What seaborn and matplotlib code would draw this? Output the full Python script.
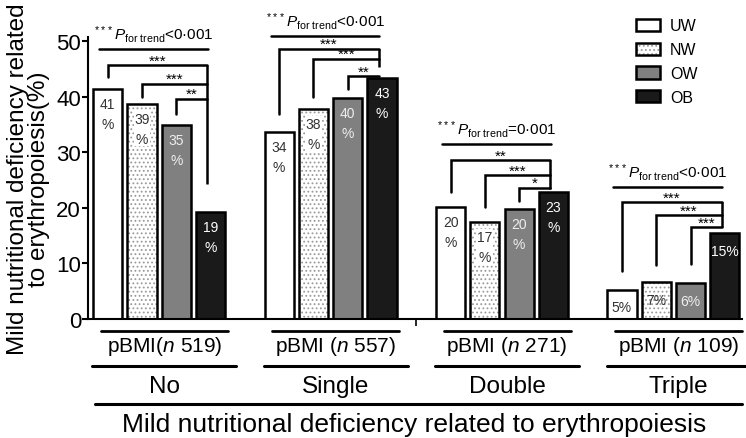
import numpy as np
import pandas as pd
import matplotlib.pyplot as plt
import matplotlib.colors as mcolors
import seaborn as sns
from matplotlib.patches import Patch
from matplotlib.transforms import blended_transform_factory

# values (% of each pBMI group)
groups = ["No", "Single", "Double", "Triple"]
bmi_levels = ["UW", "NW", "OW", "OB"]
sample_n = [519, 557, 271, 109]
uw_pct = [41.4, 33.6, 20.1, 5.2]
nw_pct = [38.7, 37.8, 17.4, 6.7]
ow_pct = [34.9, 39.7, 19.8, 6.4]
ob_pct = [19.2, 43.3, 22.8, 15.4]
p_trend = ["<0·001", "<0·001", "=0·001", "<0·001"]
sig_stars = [["***", "***", "**"],
             ["***", "***", "**"],
             ["**", "***", "*"],
             ["***", "***", "***"]]

# annotation layout (data units): p-line, bracket levels, left drops, right drop
p_line_y = [48.6, 50.9, 31.5, 23.8]
bracket_y = [[45.6, 42.3, 39.6], [48.6, 46.8, 43.6], [28.6, 25.9, 23.6], [21.0, 18.7, 16.5]]
drop_y = [[43.5, 40.0, 36.9], [36.9, 40.0, 41.4], [22.8, 20.1, 21.2], [8.6, 9.7, 9.9]]
right_drop_y = [24.3, 45.3, 23.4, 16.5]

df = pd.DataFrame({
    "group": np.repeat(groups, 4),
    "bmi": bmi_levels * 4,
    "pct": [v for g in zip(uw_pct, nw_pct, ow_pct, ob_pct) for v in g],
})

sns.set_theme(style="ticks")
plt.rcParams["font.family"] = ["Liberation Sans", "DejaVu Sans"]
plt.rcParams["mathtext.fontset"] = "custom"
plt.rcParams["mathtext.rm"] = "Liberation Sans"
plt.rcParams["mathtext.it"] = "Liberation Sans:italic"
plt.rcParams["hatch.linewidth"] = 0.8
plt.rcParams["text.color"] = "black"
plt.rcParams["axes.labelcolor"] = "black"
plt.rcParams["ytick.color"] = "black"
plt.rcParams["xtick.color"] = "black"

palette = {"UW": "white", "NW": "white", "OW": "#808080", "OB": "#1a1a1a"}
text_col = {"UW": "#333333", "NW": "#333333", "OW": "#eeeeee", "OB": "white"}

fig, ax = plt.subplots(figsize=(7.46, 4.39), dpi=100)
ax.set_position([88 / 746, 119 / 439, 654 / 746, 282 / 439])

sns.barplot(data=df, x="group", y="pct", hue="bmi", order=groups, hue_order=bmi_levels,
            palette=palette, saturation=1, width=0.8, gap=0.15, errorbar=None,
            edgecolor="black", linewidth=1.8, legend=False, ax=ax)

nw_hatch = "...."
for lvl, cont in zip(bmi_levels, ax.containers):
    for gi, bar in enumerate(cont):
        if lvl == "NW":
            bar.set_hatch(nw_hatch)
            bar._hatch_color = mcolors.to_rgba("#9a9a9a")
        h = bar.get_height()
        xc = bar.get_x() + bar.get_width() / 2
        v = int(round(h))
        if groups[gi] == "Triple":
            ax.text(xc, max(h - 3.2, 2.2), f"{v}%", ha="center", va="center",
                    fontsize=10, color=text_col[lvl])
        else:
            ax.text(xc, h - 1.4, f"{v}\n%", ha="center", va="top", fontsize=10,
                    linespacing=1.55, color=text_col[lvl],
                    bbox=dict(facecolor="white", edgecolor="none", pad=0.5) if lvl == "NW" else None)

ax.set_xlim(-0.415, 3.40)
ax.set_ylim(0, 50.7)
ax.set_yticks([0, 10, 20, 30, 40, 50])
ax.set_xticks([1.5])
ax.set_xticklabels([""])
ax.set_xlabel("")
ax.set_ylabel("Mild nutritional deficiency related\nto erythropoiesis(%)", fontsize=17.5,
              linespacing=0.95)
ax.yaxis.set_label_coords(-0.058, 0.5)
ax.tick_params(axis="y", labelsize=16, length=4, width=1.5, pad=1)
ax.tick_params(axis="x", length=5, width=1.2)
sns.despine(ax=ax)
for s in ["left", "bottom"]:
    ax.spines[s].set_linewidth(1.5)
    ax.spines[s].set_color("black")

# significance brackets
lw = 1.8
for gi in range(4):
    xs = [gi + (j - 1.5) * 0.2 for j in range(3)]
    xr = gi + 0.282
    ax.plot([gi - 0.35, gi + 0.285], [p_line_y[gi]] * 2, color="black", lw=lw, clip_on=False)
    ax.text(gi - 0.03, p_line_y[gi] + 0.9,
            r"$^{***}P_{\mathrm{for\ trend}}$" + p_trend[gi],
            ha="center", va="bottom", fontsize=11)
    ax.plot([xr, xr], [bracket_y[gi][0], right_drop_y[gi]], color="black", lw=lw,
            clip_on=False, solid_capstyle="butt")
    for j in range(3):
        yb = bracket_y[gi][j]
        ax.plot([xs[j], xs[j], xr], [drop_y[gi][j], yb, yb], color="black", lw=lw,
                clip_on=False, solid_joinstyle="miter")
        ax.text((xs[j] + xr) / 2, yb + 0.1, sig_stars[gi][j], ha="center", va="baseline",
                fontsize=11)

# group labels under the axis
tr = blended_transform_factory(ax.transData, fig.transFigure)


def fy(px):
    return 1 - px / 439


for gi, (g, n) in enumerate(zip(groups, sample_n)):
    c = gi + 0.03
    ax.plot([c - 0.37, c + 0.37], [fy(332)] * 2, transform=tr, color="black", lw=2, clip_on=False)
    sep = "" if gi == 0 else " "
    ax.text(c, fy(347), f"pBMI{sep}($\\it{{n}}$ {n})", transform=tr, ha="center",
            va="center", fontsize=15)
    ax.plot([c - 0.42, c + 0.42], [fy(367)] * 2, transform=tr, color="black", lw=2.2, clip_on=False)
    ax.text(c, fy(387), g, transform=tr, ha="center", va="center", fontsize=17.5)

ax.plot([-0.374, 3.40], [fy(405)] * 2, transform=tr, color="black", lw=2.2, clip_on=False)
ax.text(1.49, fy(425), "Mild nutritional deficiency related to erythropoiesis", transform=tr,
        ha="center", va="center", fontsize=19)

# legend
handles = []
for lvl in bmi_levels:
    p = Patch(facecolor=palette[lvl], edgecolor="black", linewidth=1.8,
              hatch=nw_hatch if lvl == "NW" else None, label=lvl)
    if lvl == "NW":
        p._hatch_color = mcolors.to_rgba("#9a9a9a")
    handles.append(p)
fig.legend(handles=handles, loc="upper left", bbox_to_anchor=(622 / 746, 1 - 5 / 439),
           frameon=False, fontsize=11.5, handlelength=1.5, handleheight=0.8,
           labelspacing=0.55, handletextpad=0.6)

fig.savefig("out.png", dpi=100)
